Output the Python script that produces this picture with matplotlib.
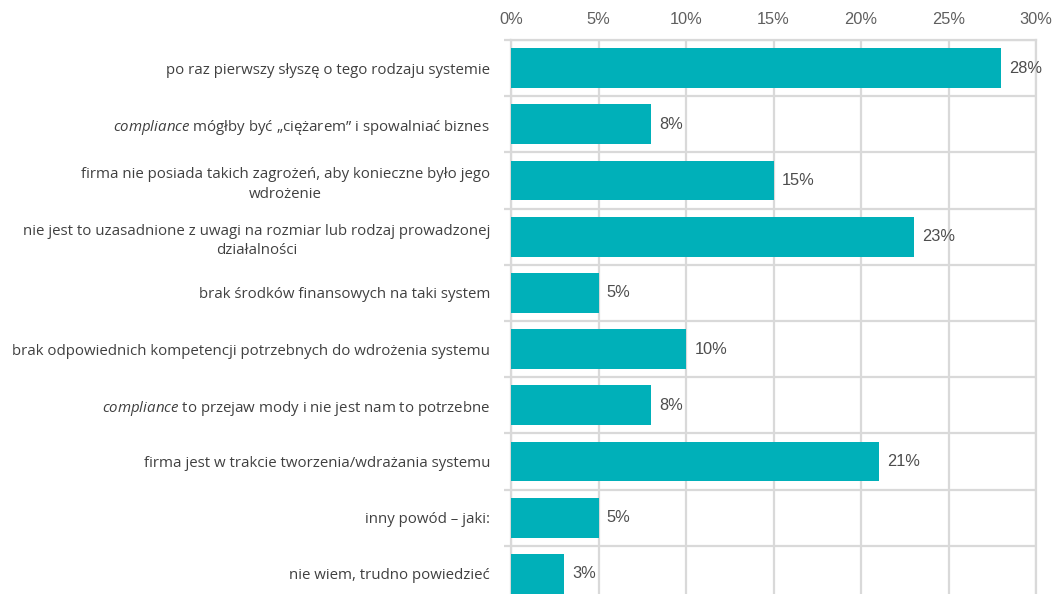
import matplotlib
matplotlib.use("Agg")
import matplotlib.pyplot as plt
import numpy as np

categories = [
    "po raz pierwszy słyszę o tego rodzaju systemie",
    r"$\it{compliance}$ mógłby być „ciężarem” i spowalniać biznes",
    "firma nie posiada takich zagrożeń, aby konieczne było jego\nwdrożenie",
    "nie jest to uzasadnione z uwagi na rozmiar lub rodzaj prowadzonej\ndziałalności",
    "brak środków finansowych na taki system",
    "brak odpowiednich kompetencji potrzebnych do wdrożenia systemu",
    r"$\it{compliance}$ to przejaw mody i nie jest nam to potrzebne",
    "firma jest w trakcie tworzenia/wdrażania systemu",
    "inny powód – jaki:",
    "nie wiem, trudno powiedzieć",
]
values = [28, 8, 15, 23, 5, 10, 8, 21, 5, 3]
xticks = [0, 5, 10, 15, 20, 25, 30]

BAR = "#00b0b9"
GRID = "#d9d9d9"
TEXT = "#404040"

plt.rcParams["mathtext.fontset"] = "custom"
plt.rcParams["mathtext.rm"] = "Open Sans"
plt.rcParams["mathtext.it"] = "Open Sans:italic"

fig = plt.figure(figsize=(10.54, 5.94), dpi=100)
W, H = 1054, 594
left, right, top, bottom = 511, 1036, 40, 602
ax = fig.add_axes([left / W, 1 - bottom / H, (right - left) / W, (bottom - top) / H])

y = np.arange(len(values))
ax.barh(y, values, height=0.71, color=BAR, zorder=3)
ax.set_ylim(len(values) - 0.5, -0.5)
ax.set_xlim(0, 30)

for yi, v in zip(y, values):
    ax.annotate(f"{v}%", (v, yi), xytext=(6, 0), textcoords="offset points",
                ha="left", va="center", fontsize=11.8, color="#4d4d4d",
                family="Liberation Sans", zorder=4)

ax.xaxis.tick_top()
ax.set_xticks(xticks)
ax.set_xticklabels([f"{t}%" for t in xticks], family="Liberation Sans",
                   fontsize=11.8, color="#5f5f5f")
ax.tick_params(axis="x", length=0, pad=9)

ax.set_yticks(y)
ax.set_yticklabels(categories, family="Open Sans", fontsize=10.8, color=TEXT)
for t in ax.get_yticklabels():
    t.set_multialignment("center")
    t.set_linespacing(1.4)
ax.set_yticks(np.arange(len(values) + 1) - 0.5, minor=True)
ax.tick_params(axis="y", which="major", length=0, pad=15)
ax.tick_params(axis="y", which="minor", length=5, width=1.6, color=GRID)

ax.grid(axis="x", which="major", color=GRID, linewidth=1.6, zorder=0)
ax.grid(axis="y", which="minor", color=GRID, linewidth=1.6, zorder=0)
for s in ax.spines.values():
    s.set_color(GRID)
    s.set_linewidth(1.6)

fig.savefig("out.png", dpi=100)
